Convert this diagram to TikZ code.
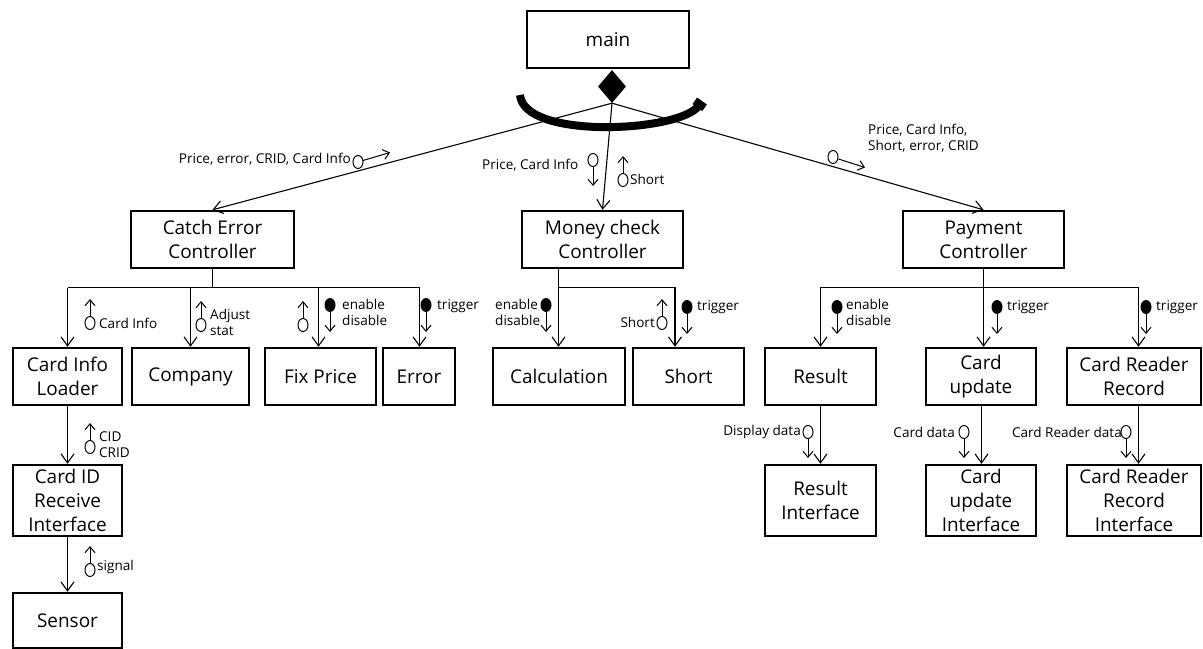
\documentclass[tikz,border=0pt]{standalone}
\usepackage{fontspec}
\setmainfont{Open Sans}
\usetikzlibrary{arrows.meta,shapes.geometric}
\begin{document}
\begin{tikzpicture}[x=1bp,y=-1bp,
  box/.style={draw, line width=2.4bp, inner sep=0pt, align=center, font=\fontsize{19}{24}\selectfont},
  conn/.style={line width=1.1bp, -{Straight Barb[length=9bp,width=13bp,line width=1.1bp]}},
  plain/.style={line width=1.1bp},
  cpl/.style={line width=1bp},
  ctip/.style={-{Straight Barb[length=6bp,width=10bp,line width=1bp]}},
  lbl/.style={inner sep=0pt, font=\fontsize{13.6}{16}\selectfont, align=left},
  cupo/.pic={\draw[cpl] (0,0) ellipse[x radius=5,y radius=6.5];
             \draw[cpl,ctip] (0,-6.5) -- (0,-24);},
  cdowno/.pic={\draw[cpl] (0,0) ellipse[x radius=5,y radius=6.5];
             \draw[cpl,ctip] (0,6.5) -- (0,26);},
  cdownf/.pic={\fill (0,0) ellipse[x radius=5.5,y radius=7];
             \draw[cpl,ctip] (0,7) -- (0,27);}
]
\useasboundingbox (0,0) rectangle (1203,649);
% boxes
\node[box, minimum width=162bp, minimum height=57bp] (main) at (608,39.5) {main};
\node[diamond, fill=black, inner sep=0pt, minimum width=28bp, minimum height=33bp] (dia) at (612,86.5) {};
\node[box, minimum width=163bp, minimum height=57bp] (cec) at (212.5,239.5) {Catch Error\\Controller};
\node[box, minimum width=161bp, minimum height=57bp] (mcc) at (602.5,239.5) {Money check\\Controller};
\node[box, minimum width=161bp, minimum height=57bp] (pc) at (983.5,239.5) {Payment\\Controller};
\node[box, minimum width=109bp, minimum height=57bp] (cil) at (67.5,376.5) {Card Info\\Loader};
\node[box, minimum width=117bp, minimum height=57bp] (comp) at (190.5,376.5) {Company};
\node[box, minimum width=111bp, minimum height=57bp] (fix) at (320.5,376.5) {Fix Price};
\node[box, minimum width=72bp, minimum height=57bp] (err) at (419,376.5) {Error};
\node[box, minimum width=132bp, minimum height=57bp] (calc) at (559,376.5) {Calculation};
\node[box, minimum width=111bp, minimum height=57bp] (shrt) at (688.5,376.5) {Short};
\node[box, minimum width=111bp, minimum height=57bp] (res) at (820.5,376.5) {Result};
\node[box, minimum width=110bp, minimum height=57bp] (cu) at (981,376.5) {Card\\update};
\node[box, minimum width=134bp, minimum height=57bp] (crr) at (1134,376.5) {Card Reader\\Record};
\node[box, minimum width=109bp, minimum height=71bp] (cidri) at (67.5,500.5) {Card ID\\Receive\\Interface};
\node[box, minimum width=109bp, minimum height=55bp] (sens) at (67.5,620.5) {Sensor};
\node[box, minimum width=111bp, minimum height=71bp] (resi) at (820.5,500.5) {Result\\Interface};
\node[box, minimum width=110bp, minimum height=71bp] (cui) at (981,500.5) {Card\\update\\Interface};
\node[box, minimum width=134bp, minimum height=71bp] (crri) at (1134,500.5) {Card Reader\\Record\\Interface};
% aggregation arc
\draw[line width=8bp, -{Square[length=8bp,width=12bp]}] (520,95) .. controls (524,140) and (680,132) .. (702,101);
% top connectors
\draw[conn] (dia.south) -- (cec.north);
\draw[conn] (dia.south) -- (mcc.north);
\draw[conn] (dia.south) -- (pc.north);
% catch error bus
\coordinate (cb) at (212.5,287.5);
\draw[plain] (cec.south) -- (cb);
\draw[plain] (cil.north |- cb) -- ([xshift=0.5bp]err.north |- cb);
\draw[conn] (cil.north |- cb) -- (cil.north);
\draw[conn] (comp.north |- cb) -- (comp.north);
\draw[conn] ([xshift=-2bp]fix.north |- cb) -- ([xshift=-2bp]fix.north);
\draw[conn] ([xshift=0.5bp]err.north |- cb) -- ([xshift=0.5bp]err.north);
% money check bus
\coordinate (mb) at (558.5,287.5);
\draw[conn] ([xshift=-0.5bp]calc.north |- mcc.south) -- ([xshift=-0.5bp]calc.north);
\draw[conn] (mb) -| ([xshift=-13.5bp]shrt.north);
% payment bus
\coordinate (pb) at (983.5,287.5);
\draw[conn] (pc.south) -- (pc.south |- cu.north);
\draw[conn] (pb) -| (res.north);
\draw[conn] (pb) -| ([xshift=4.5bp]crr.north);
% lower connectors
\draw[conn] (cil.south) -- (cidri.north);
\draw[conn] (cidri.south) -- (sens.north);
\draw[conn] (res.south) -- (resi.north);
\draw[conn] ([xshift=0.5bp]cu.south) -- ([xshift=0.5bp]cui.north);
\draw[conn] ([xshift=4.5bp]crr.south) -- ([xshift=4.5bp]crri.north);
% data couples on top connectors
\draw[cpl] (358,162) ellipse[x radius=5,y radius=6.5];
\draw[cpl,ctip] (363,160.5) -- (390,152.5);
\draw[cpl] (833,157) ellipse[x radius=5,y radius=6.5];
\draw[cpl,ctip] (838.5,159) -- (865,167.5);
\pic at (593,160) {cdowno};
\pic at (623,180) {cupo};
% level 3 couples
\pic at (90,323) {cupo};
\pic at (201,325) {cupo};
\pic at (303,325) {cupo};
\pic at (662,323) {cupo};
\pic at (330,305) {cdownf};
\pic at (426,305) {cdownf};
\pic at (546,305) {cdownf};
\pic at (687,307) {cdownf};
\pic at (837,307) {cdownf};
\pic at (997,307) {cdownf};
\pic at (1146,307) {cdownf};
% level 4 couples
\pic at (90,447) {cupo};
\pic at (90,570) {cupo};
\pic at (808,432) {cdowno};
\pic at (964,432) {cdowno};
\pic at (1126,432) {cdowno};
% labels
\node[lbl,anchor=east] (l1) at (351,159) {Price, error, CRID, Card Info};
\node[lbl,anchor=west] (l2) at (482,165) {Price, Card Info};
\node[lbl,anchor=west] (l3) at (630,179) {Short};
\node[lbl,anchor=west] (l4) at (868,138.5) {Price, Card Info,\\Short, error, CRID};
\node[lbl,anchor=west] (l5) at (99,323) {Card Info};
\node[lbl,anchor=west] (l6) at (210,322) {Adjust\\stat};
\node[lbl,anchor=west] (l7) at (342,312) {enable\\disable};
\node[lbl,anchor=west] (l8) at (437,306) {trigger};
\node[lbl,anchor=west] (l9) at (495,312) {enable\\disable};
\node[lbl,anchor=east] (l10) at (655,322) {Short};
\node[lbl,anchor=west] (l11) at (697,307) {trigger};
\node[lbl,anchor=west] (l12) at (846,312) {enable\\disable};
\node[lbl,anchor=west] (l13) at (1007,307) {trigger};
\node[lbl,anchor=west] (l14) at (1156,307) {trigger};
\node[lbl,anchor=east] (l15) at (801,432) {Display data};
\node[lbl,anchor=east] (l16) at (955,432) {Card data};
\node[lbl,anchor=east] (l17) at (1122,432) {Card Reader data};
\node[lbl,anchor=west] (l18) at (99,445) {CID\\CRID};
\node[lbl,anchor=west] (l19) at (97,567) {signal};
\end{tikzpicture}
\end{document}
